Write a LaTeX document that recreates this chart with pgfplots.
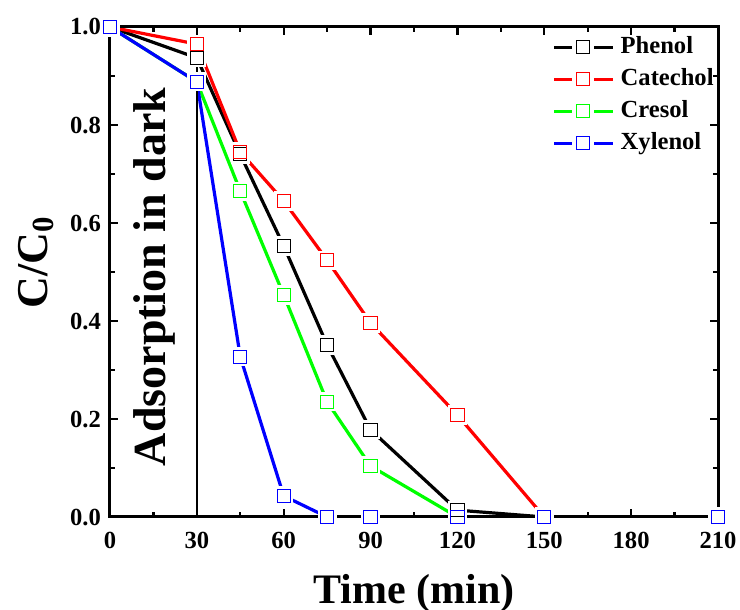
\documentclass[border=0pt]{standalone}
\usepackage{pgfplots}
\usepackage{pgfplotstable}
\pgfplotsset{compat=1.18}
\usepackage{fontspec}
\setmainfont{Liberation Serif}
\definecolor{cgreen}{RGB}{0,255,0}
\definecolor{cred}{RGB}{255,0,0}
\definecolor{cblue}{RGB}{0,0,255}
\pgfplotstableread{
x y
0 1.0
30 0.937
45 0.740
60 0.553
75 0.351
90 0.178
120 0.014
150 0.0
210 0.0
}\phenol
\pgfplotstableread{
x y
0 1.0
30 0.965
45 0.745
60 0.645
75 0.524
90 0.396
120 0.208
150 0.0
210 0.0
}\catechol
\pgfplotstableread{
x y
0 1.0
30 0.888
45 0.665
60 0.453
75 0.235
90 0.104
120 0.0
150 0.0
210 0.0
}\cresol
\pgfplotstableread{
x y
0 1.0
30 0.888
45 0.327
60 0.043
75 0.0
90 0.0
120 0.0
150 0.0
210 0.0
}\xylenol
\begin{document}
\begin{tikzpicture}
\begin{axis}[
  scale only axis, width=304pt, height=245pt,
  xmin=0, xmax=210, ymin=0, ymax=1,
  xtick={0,30,...,210}, minor x tick num=1,
  ytick={0,0.2,0.4,0.6,0.8,1.0}, minor y tick num=1,
  tick align=inside, major tick length=4pt, minor tick length=2.5pt,
  axis line style={line width=1.5pt}, tick style={line width=1.2pt, black},
  /pgf/number format/assume math mode=true,
  ticklabel style={font=\fontsize{12.3}{14}\selectfont\bfseries},
  xticklabel style={yshift=-4pt},
  yticklabel style={xshift=-1pt, /pgf/number format/fixed, /pgf/number format/precision=1, /pgf/number format/fixed zerofill},
  xlabel={Time (min)}, ylabel={C/C\textsubscript{0}},
  xlabel style={font=\fontsize{21}{25}\selectfont\bfseries, at={(axis description cs:0.5,0)}, anchor=center, yshift=-38pt},
  ylabel style={font=\fontsize{22}{26}\selectfont\bfseries, at={(axis description cs:0,0.52)}, anchor=center, yshift=37pt},
  axis on top,
  legend style={at={(1,1)}, anchor=north east, xshift=0pt, yshift=-2pt, draw=none, fill=none,
    font=\fontsize{12.3}{15}\selectfont\bfseries, row sep=0pt, inner sep=0pt,
    nodes={text height=9pt, text depth=3pt, inner sep=2pt}},
  legend cell align=left,
  legend image code/.code={
    \draw[line width=1.6pt,#1] (0pt,0pt) -- (9pt,0pt) (20pt,0pt) -- (29.5pt,0pt);
    \draw[line width=0.5pt,#1] (11.25pt,-3.25pt) rectangle (17.75pt,3.25pt);
    \path (31pt,0pt);
  },
]
% lines
\addplot[forget plot, black, line width=1.6pt, mark=none] table {\phenol};
\addplot[forget plot, cred, line width=1.6pt, mark=none] table {\catechol};
\addplot[forget plot, cgreen, line width=1.6pt, mark=none] table {\cresol};
\addplot[forget plot, cblue, line width=1.6pt, mark=none] table {\xylenol};
% halos
\addplot[forget plot, only marks, mark=square*, mark size=3.3pt,
    mark options={draw=white, fill=white, line width=3pt}] table {\phenol};
\addplot[forget plot, only marks, mark=square*, mark size=3.3pt,
    mark options={draw=white, fill=white, line width=3pt}] table {\catechol};
\addplot[forget plot, only marks, mark=square*, mark size=3.3pt,
    mark options={draw=white, fill=white, line width=3pt}] table {\cresol};
\addplot[forget plot, only marks, mark=square*, mark size=3.3pt,
    mark options={draw=white, fill=white, line width=3pt}] table {\xylenol};
% dark line
\addplot[forget plot, black, line width=1pt, mark=none] coordinates {(30,0) (30,1)};
% markers
\addplot[forget plot, only marks, mark=square, mark size=3.3pt, mark options={draw=black, line width=0.5pt}] table {\phenol};
\addplot[forget plot, only marks, mark=square, mark size=3.3pt, mark options={draw=cred, line width=0.5pt}] table {\catechol};
\addplot[forget plot, only marks, mark=square, mark size=3.3pt, mark options={draw=cgreen, line width=0.5pt}] table {\cresol};
\addplot[forget plot, only marks, mark=square, mark size=3.3pt, mark options={draw=cblue, line width=0.5pt}] table {\xylenol};
\addlegendimage{black}\addlegendentry{Phenol}
\addlegendimage{cred}\addlegendentry{Catechol}
\addlegendimage{cgreen}\addlegendentry{Cresol}
\addlegendimage{cblue}\addlegendentry{Xylenol}
\node[rotate=90, font=\fontsize{23}{27}\selectfont\bfseries] at (axis cs:15.5,0.49) {Adsorption in dark};
\end{axis}
\pgfresetboundingbox
\path (current axis.south west) ++(-55pt,-46.5pt) coordinate (bbA);
\path (current axis.north east) ++(11pt,13.5pt) coordinate (bbB);
\useasboundingbox (bbA) rectangle (bbB);
\end{tikzpicture}
\end{document}
